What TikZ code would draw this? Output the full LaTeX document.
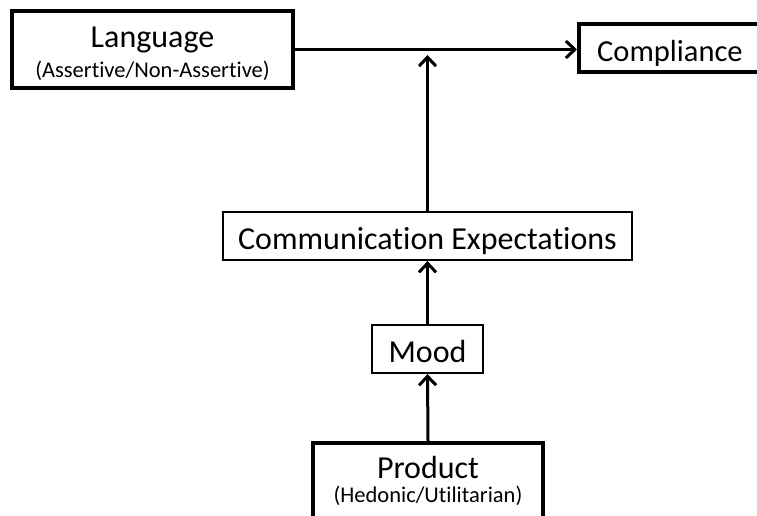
\documentclass[tikz,border=0pt]{standalone}
\usepackage{fontspec}
\setmainfont{Carlito}[Ligatures=NoCommon]
\usetikzlibrary{arrows.meta}
\begin{document}
\begin{tikzpicture}[x=1pt,y=1pt,
  thickbox/.style={draw, line width=4pt, rectangle, inner sep=0pt},
  thinbox/.style={draw, line width=2.2pt, rectangle, inner sep=0pt},
  maintext/.style={font=\fontsize{32}{36}\selectfont, anchor=base, inner sep=0pt},
  subtext/.style={font=\fontsize{22.5}{25}\selectfont, anchor=base, inner sep=0pt},
  conn/.style={line width=3pt, -{Straight Barb[length=9pt,width=17pt,line width=3pt]}}]
\useasboundingbox (0,0) rectangle (757,515);
% boxes (y measured from top: tikz y = 515 - y)
\node[thickbox, minimum width=281pt, minimum height=77pt] (lang) at (152.5,465.5) {};
\node[maintext] (langt) at (152.5,467) {Language};
\node[subtext] (langs) at (152.5,437) {(Assertive/Non-Assertive)};
\node[thickbox, minimum width=200pt, minimum height=48pt, anchor=west] (comp) at (577,467) {};
\node[maintext, font=\fontsize{30.5}{36}\selectfont, anchor=base west] (compt) at (597,453) {Compliance};
\node[thinbox, minimum width=409pt, minimum height=48pt] (comm) at (427.5,279) {};
\node[maintext] (commt) at (427.5,266) {Communication Expectations};
\node[thinbox, minimum width=111pt, minimum height=48pt] (mood) at (427.5,166) {};
\node[maintext] (moodt) at (427.5,153) {Mood};
\node[thickbox, minimum width=230pt, minimum height=78pt, anchor=north] (prod) at (428,74) {};
\node[maintext] (prodt) at (428,37) {Product};
\node[subtext] (prods) at (428,13) {(Hedonic/Utilitarian)};
\coordinate (join) at (427.5,460);
% connectors
\draw[conn] (lang.east) -- (lang.east -| comp.west);
\draw[conn] (comm.north) -- (join);
\draw[conn] (mood.north) -- (comm.south);
\draw[conn] (prod.north) -- (mood.south);
\end{tikzpicture}
\end{document}
